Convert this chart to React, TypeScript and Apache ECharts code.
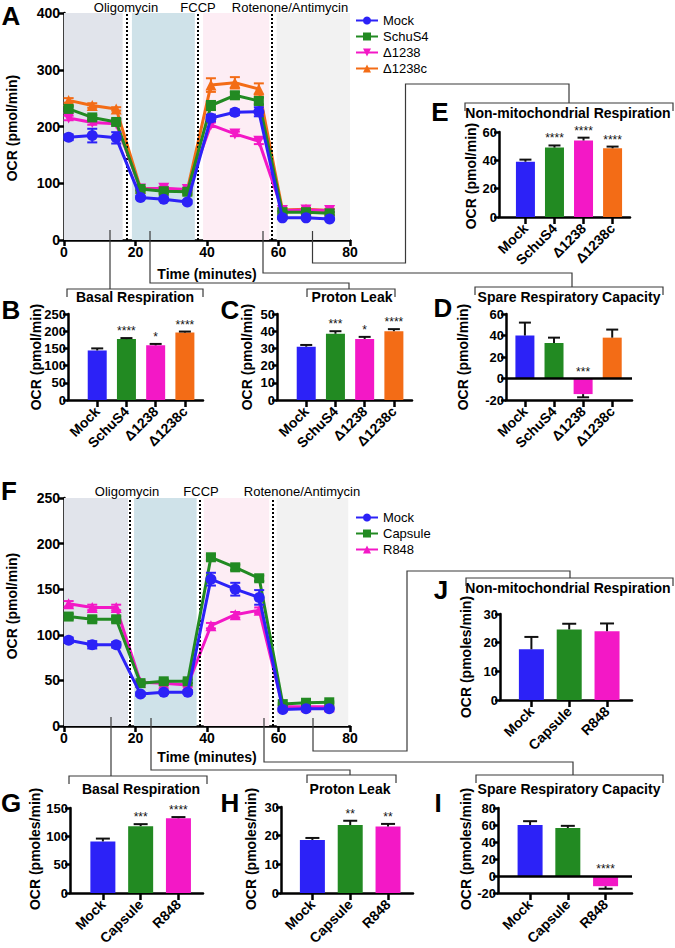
import React, { useEffect, useRef } from 'react';
import * as echarts from 'echarts';

const FONT = '"Liberation Sans", Arial, Helvetica, sans-serif';
const BLUE = '#2c22f7';
const GREEN = '#228a22';
const PINK = '#f318c6';
const ORANGE = '#f36c16';
const BAND_COLORS = ['#e1e4eb', '#cfe2e9', '#fdedf4', '#f2f2f2'];

// ---------- Panel A (time course) ----------
const timeA = [1.3, 7.9, 14.6, 21.4, 27.9, 34.5, 41.1, 47.8, 54.5, 61.1, 67.7, 74.3];
const mockA = [181, 184, 180, 75, 72, 67, 215, 225, 226, 39, 39, 37];
const mockAErr = [5, 12, 10, 3, 3, 3, 6, 5, 8, 2, 2, 2];
const schuA = [231, 216, 208, 90, 86, 85, 237, 255, 245, 49, 49, 47];
const schuAErr = [4, 4, 4, 3, 3, 3, 8, 6, 6, 2, 2, 2];
const d1238A = [215, 207, 205, 90, 91, 89, 203, 187, 174, 52, 53, 52];
const d1238AErr = [4, 4, 3, 3, 3, 3, 4, 4, 5, 2, 2, 2];
const d1238cA = [246, 237, 231, 91, 90, 88, 273, 277, 266, 53, 54, 52];
const d1238cAErr = [4, 4, 3, 3, 3, 3, 12, 10, 10, 3, 3, 3];
const bandsA = [[0, 16.4], [19.0, 36.6], [38.9, 57.4], [59.5, 80]];
const injectA = [17.6, 37.4, 58.2];

// ---------- Panel F (time course) ----------
const timeF = [1.3, 7.9, 14.6, 21.4, 27.9, 34.6, 41.1, 47.9, 54.6, 61.2, 67.7, 74.2];
const mockF = [94, 89, 89, 35, 37, 37, 161, 150, 141, 18, 19, 19];
const mockFErr = [3, 4, 3, 2, 2, 2, 7, 7, 8, 1, 1, 1];
const capsuleF = [120, 117, 117, 47, 49, 49, 185, 174, 162, 24, 25.5, 26];
const capsuleFErr = [3, 3, 3, 2, 2, 2, 3, 3, 3, 1, 1, 1];
const r848F = [134, 130, 130, 48, 47, 45, 110, 122, 127, 21, 21, 21];
const r848FErr = [3, 3, 3, 2, 2, 2, 3, 3, 3, 1, 1, 1];
const bandsF = [[0, 17.9], [19.6, 37.1], [39.1, 57.4], [59.5, 79.5]];
const injectF = [18.4, 38.0, 58.4];

// ---------- Bar panels ----------
const catsA = ['Mock', 'SchuS4', 'Δ1238', 'Δ1238c'];
const catsF = ['Mock', 'Capsule', 'R848'];

const basalA = [144, 177, 159, 196];
const basalAErr = [6, 3, 4, 3];
const basalAStars = ['', '****', '*', '****'];
const leakA = [31, 38.5, 35.5, 40];
const leakAErr = [1, 1.5, 1.2, 1.2];
const leakAStars = ['', '***', '*', '****'];
const spareA = [40, 33, -14.5, 38];
const spareAErr = [12, 5, 3, 7.5];
const spareAStars = ['', '', '***', ''];
const nonMitoA = [39, 49, 54, 48.5];
const nonMitoAErr = [1.5, 1.5, 2, 1.2];
const nonMitoAStars = ['', '****', '****', '****'];

const basalF = [91, 118, 132];
const basalFErr = [5, 3.5, 2];
const basalFStars = ['', '***', '****'];
const leakF = [18.5, 23.7, 23.2];
const leakFErr = [0.7, 1.5, 0.9];
const leakFStars = ['', '**', '**'];
const spareF = [60, 56.5, -12];
const spareFErr = [4.5, 2.5, 3];
const spareFStars = ['', '', '****'];
const nonMitoF = [17.7, 24.6, 24];
const nonMitoFErr = [4.3, 2, 2.7];
const nonMitoFStars = ['', '', ''];

const colorsA = [BLUE, GREEN, PINK, ORANGE];
const colorsF = [BLUE, GREEN, PINK];

const Y_NAME_A = 'OCR (pmol/min)';
const Y_NAME_F = 'OCR (pmoles/min)';

const boldText = { color: '#000', fontFamily: FONT, fontWeight: 'bold' as const };

function buildOption() {
  const grids = [
    { left: 64, top: 13, width: 286, height: 227 }, // 0 A
    { left: 68, top: 314, width: 135, height: 86 }, // 1 B
    { left: 277, top: 314, width: 135, height: 86 }, // 2 C
    { left: 506, top: 314, width: 126, height: 86 }, // 3 D
    { left: 499, top: 132, width: 131, height: 85 }, // 4 E
    { left: 64, top: 498, width: 286, height: 228 }, // 5 F
    { left: 70, top: 808, width: 133, height: 85 }, // 6 G
    { left: 281, top: 807, width: 132, height: 86 }, // 7 H
    { left: 498, top: 808, width: 134, height: 85 }, // 8 I
    { left: 500, top: 614, width: 132, height: 86 }, // 9 J
  ].map((g) => ({ ...g, outerBoundsMode: 'none', containLabel: false }));

  const xAxes: any[] = [];
  const yAxes: any[] = [];
  const series: any[] = [];

  const axisLine = { show: true, onZero: false, lineStyle: { color: '#000', width: 2.5 } };
  const axisTick = { show: true, length: 6, lineStyle: { color: '#000', width: 2.5 } };

  function lineAxes(grid: number, ymax: number, yint: number, xGap: number) {
    xAxes[grid] = {
      type: 'value', gridIndex: grid, min: 0, max: 80, interval: 20,
      axisLine, axisTick, splitLine: { show: false },
      axisLabel: { ...boldText, fontSize: 14, margin: 5 },
      name: 'Time (minutes)', nameLocation: 'middle', nameGap: xGap,
      nameTextStyle: { ...boldText, fontSize: 14 },
    };
    yAxes[grid] = {
      type: 'value', gridIndex: grid, min: 0, max: ymax, interval: yint,
      axisLine, axisTick, splitLine: { show: false },
      axisLabel: { ...boldText, fontSize: 14, margin: 4 },
    };
  }

  function backdrop(grid: number, bands: number[][], inject: number[]) {
    series.push({
      type: 'line', xAxisIndex: grid, yAxisIndex: grid, data: [[0, 0]], showSymbol: false,
      lineStyle: { width: 0, opacity: 0 }, silent: true, z: 0,
      markArea: {
        silent: true,
        data: bands.map((b, i) => [{ xAxis: b[0], itemStyle: { color: BAND_COLORS[i] } }, { xAxis: b[1] }]),
      },
      markLine: {
        silent: true, symbol: ['none', 'none'], label: { show: false },
        lineStyle: { color: '#000', type: 'dotted', width: 2 },
        data: inject.map((x) => ({ xAxis: x })),
      },
    });
  }

  function lineSeries(grid: number, name: string, times: number[], vals: number[], errs: number[], color: string, symbol: string, rotate: number, z: number) {
    series.push({
      type: 'custom', xAxisIndex: grid, yAxisIndex: grid, z,
      data: times.map((t, i) => [t, vals[i], errs[i]]),
      renderItem: (_p: any, api: any) => {
        const x = api.value(0), v = api.value(1), e = api.value(2);
        const a = api.coord([x, v + e]);
        const b = api.coord([x, v - e]);
        const st = { stroke: color, lineWidth: 2 };
        return {
          type: 'group', children: [
            { type: 'line', shape: { x1: a[0], y1: a[1], x2: b[0], y2: b[1] }, style: st },
            { type: 'line', shape: { x1: a[0] - 5, y1: a[1], x2: a[0] + 5, y2: a[1] }, style: st },
            { type: 'line', shape: { x1: b[0] - 5, y1: b[1], x2: b[0] + 5, y2: b[1] }, style: st },
          ],
        };
      },
    });
    series.push({
      type: 'line', name, xAxisIndex: grid, yAxisIndex: grid, z: z + 1,
      data: times.map((t, i) => [t, vals[i]]),
      symbol, symbolSize: symbol === 'rect' ? 10 : 11, symbolRotate: rotate, showSymbol: true,
      lineStyle: { color, width: 3 }, itemStyle: { color },
    });
  }

  function barPanel(grid: number, cats: string[], colors: string[], vals: number[], errs: number[], stars: string[],
    xmin: number, xmax: number, ymin: number, ymax: number, yint: number, barW: number, cap: number) {
    const pos = cats.map((_c, i) => i + 1);
    xAxes[grid] = {
      type: 'value', gridIndex: grid, min: xmin, max: xmax,
      axisLine, splitLine: { show: false },
      axisTick: { ...axisTick, length: 7, customValues: pos },
      axisLabel: {
        ...boldText, fontSize: 14, rotate: 45, margin: 9, customValues: pos,
        formatter: (v: number) => cats[Math.round(v) - 1] ?? '',
      },
    };
    yAxes[grid] = {
      type: 'value', gridIndex: grid, min: ymin, max: ymax, interval: yint,
      axisLine, axisTick: { ...axisTick, length: 5 }, splitLine: { show: false },
      axisLabel: { ...boldText, fontSize: 13, margin: 2 },
    };
    const bar: any = {
      type: 'bar', xAxisIndex: grid, yAxisIndex: grid, barWidth: barW, z: 2,
      data: vals.map((v, i) => ({ value: [pos[i], v], itemStyle: { color: colors[i] } })),
    };
    if (ymin < 0) {
      bar.markLine = {
        silent: true, symbol: ['none', 'none'], label: { show: false },
        lineStyle: { color: '#000', type: 'solid', width: 2.5 },
        data: [{ yAxis: 0 }],
      };
    }
    series.push(bar);
    series.push({
      type: 'custom', xAxisIndex: grid, yAxisIndex: grid, z: 3,
      data: vals.map((v, i) => [pos[i], v, errs[i]]),
      renderItem: (p: any, api: any) => {
        const x = api.value(0), v = api.value(1), e = api.value(2);
        const sign = v >= 0 ? 1 : -1;
        const a = api.coord([x, v]);
        const b = api.coord([x, v + sign * e]);
        const st = { stroke: '#111', lineWidth: 2 };
        const children: any[] = [
          { type: 'line', shape: { x1: a[0], y1: a[1], x2: b[0], y2: b[1] }, style: st },
          { type: 'line', shape: { x1: b[0] - cap, y1: b[1], x2: b[0] + cap, y2: b[1] }, style: st },
        ];
        const s = stars[p.dataIndex];
        if (s) {
          const baseY = v >= 0 ? b[1] : api.coord([x, 0])[1];
          children.push({
            type: 'text', x: a[0], y: baseY - 1,
            style: { text: s, fontSize: 12, fontFamily: FONT, fill: '#111', align: 'center', verticalAlign: 'bottom' },
          });
        }
        return { type: 'group', children };
      },
    });
  }

  // Panel A
  lineAxes(0, 400, 100, 27);
  backdrop(0, bandsA, injectA);
  lineSeries(0, 'Δ1238c', timeA, d1238cA, d1238cAErr, ORANGE, 'triangle', 0, 2);
  lineSeries(0, 'Δ1238', timeA, d1238A, d1238AErr, PINK, 'triangle', 180, 4);
  lineSeries(0, 'SchuS4', timeA, schuA, schuAErr, GREEN, 'rect', 0, 6);
  lineSeries(0, 'Mock', timeA, mockA, mockAErr, BLUE, 'circle', 0, 8);

  // Panel F
  lineAxes(5, 250, 50, 24);
  backdrop(5, bandsF, injectF);
  lineSeries(5, 'R848', timeF, r848F, r848FErr, PINK, 'triangle', 0, 2);
  lineSeries(5, 'Capsule', timeF, capsuleF, capsuleFErr, GREEN, 'rect', 0, 4);
  lineSeries(5, 'Mock', timeF, mockF, mockFErr, BLUE, 'circle', 0, 6);

  // Bar panels
  barPanel(1, catsA, colorsA, basalA, basalAErr, basalAStars, 0, 4.62, 0, 250, 50, 19, 6);
  barPanel(2, catsA, colorsA, leakA, leakAErr, leakAStars, 0, 4.62, 0, 50, 10, 19, 6);
  barPanel(3, catsA, colorsA, spareA, spareAErr, spareAStars, 0.35, 4.68, -20, 60, 20, 19, 6);
  barPanel(4, catsA, colorsA, nonMitoA, nonMitoAErr, nonMitoAStars, 0.09, 4.6, 0, 60, 20, 19, 6);
  barPanel(6, catsF, colorsF, basalF, basalFErr, basalFStars, 0.13, 3.65, 0, 150, 50, 25, 7);
  barPanel(7, catsF, colorsF, leakF, leakFErr, leakFStars, 0.17, 3.66, 0, 30, 10, 25, 7);
  barPanel(8, catsF, colorsF, spareF, spareFErr, spareFStars, 0.15, 3.7, -20, 80, 20, 25, 7);
  barPanel(9, catsF, colorsF, nonMitoF, nonMitoFErr, nonMitoFStars, 0.17, 3.66, 0, 30, 10, 25, 7);

  const lineCol = '#3a3a3a';
  const poly = (pts: number[][]) => ({
    type: 'polyline', shape: { points: pts }, z: 100,
    style: { stroke: lineCol, lineWidth: 1.2, fill: null },
  });
  const bracket = (x1: number, x2: number, y: number) => poly([[x1, y + 8], [x1, y], [x2, y], [x2, y + 8]]);
  const txt = (text: string, x: number, y: number, size: number, weight: string, rotation = 0) => ({
    type: 'text', x, y, z: 100, rotation,
    style: { text, fontSize: size, fontWeight: weight, fontFamily: FONT, fill: '#000', align: 'center', verticalAlign: 'middle' },
  });
  const yName = (text: string, x: number, y: number) => txt(text, x, y, 14, 'bold', Math.PI / 2);

  const graphic: any[] = [
    // panel letters
    txt('A', 11, 16, 26, 'bold'), txt('B', 11, 310, 26, 'bold'), txt('C', 230, 310, 26, 'bold'),
    txt('D', 443, 308, 26, 'bold'), txt('E', 440, 112, 26, 'bold'), txt('F', 9, 491, 26, 'bold'),
    txt('G', 11, 803, 26, 'bold'), txt('H', 230, 803, 26, 'bold'), txt('I', 438, 803, 26, 'bold'),
    txt('J', 441, 590, 26, 'bold'),
    // y-axis titles
    yName(Y_NAME_A, 12, 128), yName(Y_NAME_A, 36, 357), yName(Y_NAME_A, 247, 357),
    yName(Y_NAME_A, 463, 357), yName(Y_NAME_A, 471, 176), yName(Y_NAME_A, 12, 606),
    yName(Y_NAME_F, 35, 849), yName(Y_NAME_F, 251, 849), yName(Y_NAME_F, 466, 849),
    yName(Y_NAME_F, 466, 657),
    // injection labels
    txt('Oligomycin', 126, 7, 13, 'normal'), txt('FCCP', 198, 7, 13, 'normal'), txt('Rotenone/Antimycin', 290, 7, 13, 'normal'),
    txt('Oligomycin', 127, 491, 13, 'normal'), txt('FCCP', 201, 491, 13, 'normal'), txt('Rotenone/Antimycin', 302, 491, 13, 'normal'),
    // bracket titles
    txt('Basal Respiration', 135, 297, 14, 'bold'), txt('Proton Leak', 352, 297, 14, 'bold'),
    txt('Spare Respiratory Capacity', 569, 297, 14, 'bold'), txt('Non-mitochondrial Respiration', 568, 113, 14, 'bold'),
    txt('Basal Respiration', 141, 789, 14, 'bold'), txt('Proton Leak', 350, 789, 14, 'bold'),
    txt('Spare Respiratory Capacity', 569, 789, 14, 'bold'), txt('Non-mitochondrial Respiration', 568, 588, 14, 'bold'),
    // brackets
    bracket(67, 203, 289), bracket(307, 395, 289), bracket(475, 663, 287), bracket(465, 673, 103),
    bracket(69, 207, 776), bracket(307, 396, 775), bracket(476, 663, 775), bracket(466, 673, 578),
    // connectors from A
    poly([[110, 230], [110, 289]]),
    poly([[150, 231], [150, 283], [349, 283], [349, 289]]),
    poly([[263, 231], [263, 273], [572, 273], [572, 287]]),
    poly([[312.5, 231], [312.5, 263], [405.5, 263], [405.5, 84], [569, 84], [569, 103]]),
    // connectors from F
    poly([[111, 717], [111, 776]]),
    poly([[151, 718], [151, 770], [350, 770], [350, 775]]),
    poly([[264, 718], [264, 762], [573, 762], [573, 775]]),
    poly([[313, 718], [313, 751], [407, 751], [407, 571], [570, 571], [570, 578]]),
  ];

  const legendBase = {
    orient: 'vertical', itemWidth: 22, itemHeight: 10, itemGap: 3,
    textStyle: { fontSize: 13, fontFamily: FONT, color: '#000' },
    selectedMode: false,
  };

  return {
    animation: false,
    backgroundColor: '#fff',
    grid: grids,
    xAxis: xAxes,
    yAxis: yAxes,
    legend: [
      { ...legendBase, left: 350, top: 9, data: ['Mock', 'SchuS4', 'Δ1238', 'Δ1238c'] },
      { ...legendBase, left: 350, top: 506, data: ['Mock', 'Capsule', 'R848'] },
    ],
    series,
    graphic,
  };
}

export default function App() {
  const ref = useRef<HTMLDivElement>(null);
  useEffect(() => {
    const chart = echarts.init(ref.current!, null, { renderer: 'svg' });
    chart.setOption(buildOption() as any);
    return () => chart.dispose();
  }, []);
  return (
    <div
      ref={ref}
      style={{ position: 'absolute', left: 0, top: 0, width: 675, height: 948, background: '#fff' }}
    />
  );
}
